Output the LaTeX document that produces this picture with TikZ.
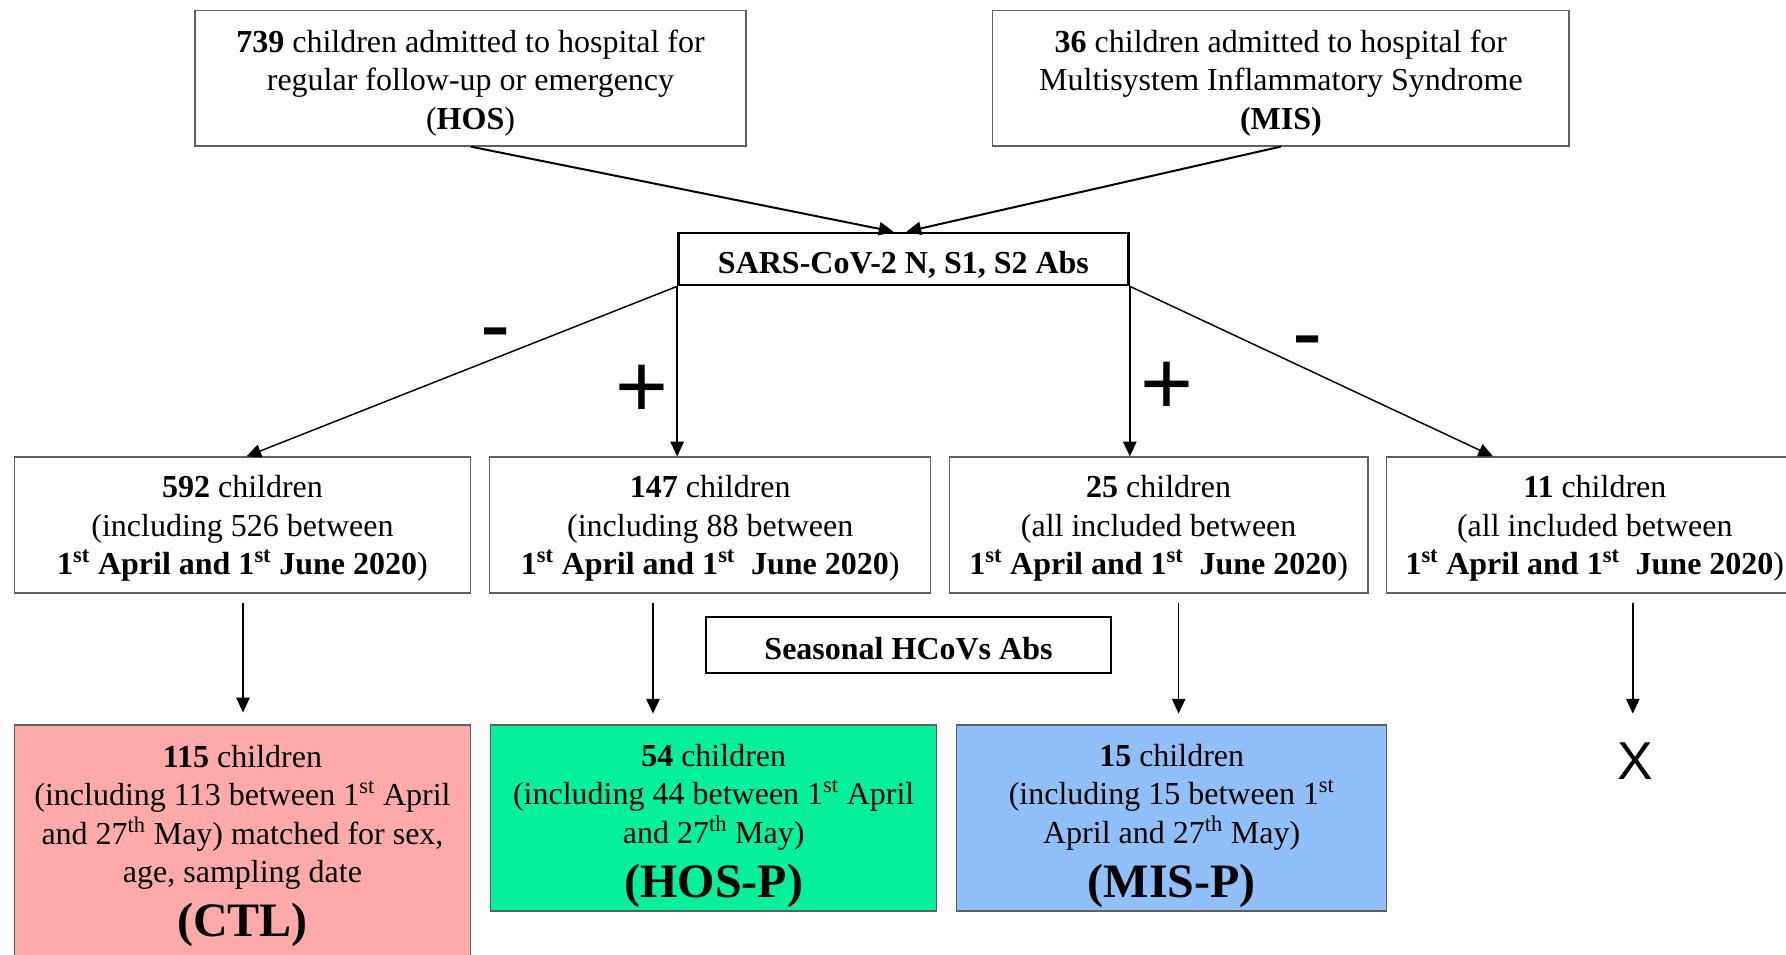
\documentclass[tikz,border=0pt]{standalone}
\usepackage{fontspec}
\setmainfont{Liberation Serif}
\newfontfamily\signfont{Liberation Sans}
\usetikzlibrary{arrows.meta,calc}
\definecolor{ctlpink}{RGB}{255,170,170}
\definecolor{hosgreen}{RGB}{4,240,155}
\definecolor{misblue}{RGB}{144,192,250}
\definecolor{bordergray}{RGB}{95,95,95}
\newcommand{\stp}{\textsuperscript{st}}
\newcommand{\thp}{\textsuperscript{th}}
\newcommand{\bigtxt}[1]{{\fontsize{36}{40}\selectfont\bfseries #1}}
\begin{document}
\begin{tikzpicture}[x=0.75pt,y=-0.75pt,
  box/.style={draw=bordergray, line width=0.9pt, rectangle, inner sep=0pt},
  thickbox/.style={draw=black, line width=2pt, rectangle, inner sep=0pt},
  txt/.style={inner sep=0pt, align=center, font=\fontsize{24}{28.9}\selectfont},
  btxt/.style={inner sep=0pt, align=center, font=\fontsize{24}{28.9}\selectfont\bfseries},
  arrthick/.style={line width=1.5pt, -{Triangle[length=11pt,width=10pt]}},
  arrthin/.style={line width=1.1pt, -{Triangle[length=11pt,width=10pt]}},
  sign/.style={font=\signfont\fontsize{68}{68}\selectfont, inner sep=0pt},
]
\useasboundingbox (0,0) rectangle (1786,954);
\clip (0,0) rectangle (1786,954);

% top boxes
\node[box, minimum width=413.25pt, minimum height=101.5pt] (hos) at (470.5,78.3) {};
\node[txt] (hos-t) at ($(hos)+(0,4.5)$)
  {\textbf{739} children admitted to hospital for\\ regular follow-up or emergency\\ (\textbf{HOS})};
\node[box, minimum width=432.2pt, minimum height=101.5pt] (mis) at (1280.9,78.3) {};
\node[txt] (mis-t) at ($(mis)+(0,4.5)$)
  {\textbf{36} children admitted to hospital for\\ Multisystem Inflammatory Syndrome\\ \textbf{(MIS)}};

% test box
\node[thickbox, minimum width=337.5pt, minimum height=39pt] (sars) at (903.5,259) {};
\node[btxt] (sars-t) at ($(sars)+(0,5.5)$) {SARS-CoV-2 N, S1, S2 Abs};

% middle boxes
\node[box, minimum width=342.2pt, minimum height=102pt] (b1) at (242.5,525) {};
\node[txt] (b1-t) at ($(b1)+(0,3.5)$)
  {\textbf{592} children\\ (including 526 between\\ \textbf{1\stp{} April and 1\stp{} June 2020})};
\node[box, minimum width=330.8pt, minimum height=102pt] (b2) at (710.25,525) {};
\node[txt] (b2-t) at ($(b2)+(0,3.5)$)
  {\textbf{147} children\\ (including 88 between\\ \textbf{1\stp{} April and 1\stp{}\ \ June 2020})};
\node[box, minimum width=314pt, minimum height=102pt] (b3) at (1158.65,525) {};
\node[txt] (b3-t) at ($(b3)+(0,3.5)$)
  {\textbf{25} children\\ (all included between\\ \textbf{1\stp{} April and 1\stp{}\ \ June 2020})};
\node[box, minimum width=312.3pt, minimum height=102pt] (b4) at (1594.8,525) {};
\node[txt] (b4-t) at ($(b4)+(0,3.5)$)
  {\textbf{11} children\\ (all included between\\ \textbf{1\stp{} April and 1\stp{}\ \ June 2020})};

% seasonal
\node[thickbox, minimum width=303.75pt, minimum height=42pt] (seas) at (908.5,645) {};
\node[btxt] (seas-t) at ($(seas)+(0,3.5)$) {Seasonal HCoVs Abs};

% bottom boxes
\node[box, fill=ctlpink, minimum width=342.2pt, minimum height=176.25pt] (ctl) at (242.5,842.5) {};
\node[txt] (ctl-t) at ($(ctl)+(0,3.5)$)
  {\textbf{115} children\\ (including 113 between 1\stp{} April\\ and 27\thp{} May) matched for sex,\\ age, sampling date\\[9.5pt] \bigtxt{(CTL)}};
\node[box, fill=hosgreen, minimum width=334.4pt, minimum height=139.5pt] (hosp) at (713.7,818) {};
\node[txt] (hosp-t) at ($(hosp)+(0,8)$)
  {\textbf{54} children\\ (including 44 between 1\stp{} April\\ and 27\thp{} May)\\[9.5pt] \bigtxt{(HOS-P)}};
\node[box, fill=misblue, minimum width=322.4pt, minimum height=139.5pt] (misp) at (1171.7,818) {};
\node[txt] (misp-t) at ($(misp)+(0,8)$)
  {\textbf{15} children\\ (including 15 between 1\stp{}\\ April and 27\thp{} May)\\[9.5pt] \bigtxt{(MIS-P)}};
\node[font=\signfont\fontsize{40}{40}\selectfont, inner sep=0pt] (x) at (1635,761) {X};

% signs
\node[sign] (m1) at (496,342) {-};
\node[sign] (p1) at (642,391) {+};
\node[sign] (p2) at (1167,388) {+};
\node[sign] (m2) at (1308,350) {-};

% connectors
\draw[arrthick] (hos.south) -- ($(sars.north)+(-10,0)$);
\draw[arrthick] (mis.south) -- ($(sars.north)+(3,0)$);
\draw[arrthin] (sars.south west) -- ($(b1.north)+(4,0)$);
\draw[arrthin] (sars.south west) -- (sars.south west |- b2.north);
\draw[arrthin] (sars.south east) -- (sars.south east |- b3.north);
\coordinate (b4in) at ($(b4.north west)+(107,0)$);
\draw[arrthin] (sars.south east) -- (b4in);

\draw[arrthin] ($(b1.south)+(0.5,9)$) -- ($(ctl.north)+(0.5,-12)$);
\draw[arrthin] ($(b2.south)+(-57.25,9)$) -- ($(b2.south)+(-57.25,120)$);
\draw[arrthin] ($(b3.south)+(20,9)$) -- ($(b3.south)+(20,120)$);
\draw[arrthin] ($(b4.south)+(38,9)$) -- ($(b4.south)+(38,120)$);
\end{tikzpicture}
\end{document}
